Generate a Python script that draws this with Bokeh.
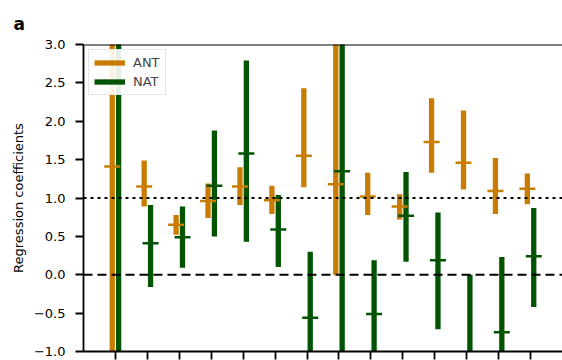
from bokeh.plotting import figure
from bokeh.models import (Span, FixedTicker, Range1d, Legend, LegendItem,
                          ColumnDataSource, CustomLabelingPolicy)
from bokeh.embed import file_html
from bokeh.resources import INLINE

# ---- data ----
groups = list(range(14))
ant_mean = [1.41, 1.15, 0.65, 0.96, 1.15, 0.97, 1.55, 1.18, 1.02, 0.89, 1.73, 1.46, 1.09, 1.12]
ant_low = [-1.6, 0.89, 0.52, 0.74, 0.91, 0.79, 1.14, 0.0, 0.78, 0.72, 1.33, 1.11, 0.79, 0.92]
ant_high = [4.4, 1.49, 0.78, 1.19, 1.40, 1.16, 2.43, 3.5, 1.33, 1.05, 2.30, 2.14, 1.52, 1.32]
nat_mean = [-1.6, 0.41, 0.49, 1.16, 1.58, 0.59, -0.56, 1.35, -0.51, 0.77, 0.19, -1.2, -0.75, 0.24]
nat_low = [-4.5, -0.16, 0.09, 0.50, 0.43, 0.10, -1.5, -3.5, -1.3, 0.17, -0.71, -2.4, -1.7, -0.42]
nat_high = [5.0, 0.91, 0.89, 1.88, 2.79, 1.04, 0.30, 5.5, 0.19, 1.34, 0.81, 0.0, 0.23, 0.87]
y_ticks = [-1.0, -0.5, 0.0, 0.5, 1.0, 1.5, 2.0, 2.5, 3.0]
y_tick_labels = ["\u22121.0", "\u22120.5", "0.0", "0.5", "1.0", "1.5", "2.0", "2.5", "3.0"]

ANT_COLOR = "#c97c02"
NAT_COLOR = "#025302"
FONT = "DejaVu Sans"
offset = 0.1

ant_x = [g - offset for g in groups]
nat_x = [g + offset for g in groups]
ant_src = ColumnDataSource(dict(x=ant_x, m=ant_mean, lo=ant_low, hi=ant_high))
nat_src = ColumnDataSource(dict(x=nat_x, m=nat_mean, lo=nat_low, hi=nat_high))

p = figure(width=562, height=360,
           x_range=Range1d(-1, 14), y_range=Range1d(-1, 3),
           output_backend="svg", toolbar_location=None,
           min_border_left=83, min_border_top=43, min_border_right=0, min_border_bottom=9)
p.title.text = "a"
p.title.align = "left"
p.title.offset = -70
p.title.standoff = 22
p.title.text_font = FONT
p.title.text_font_style = "bold"
p.title.text_font_size = "17px"
p.title.text_color = "black"

p.xgrid.visible = False
p.ygrid.visible = False
p.background_fill_color = "white"
p.border_fill_color = "white"
p.outline_line_color = None

# bars
r_ant = p.segment(x0="x", y0="lo", x1="x", y1="hi", source=ant_src,
                  line_color=ANT_COLOR, line_width=5.3, line_cap="butt")
r_nat = p.segment(x0="x", y0="lo", x1="x", y1="hi", source=nat_src,
                  line_color=NAT_COLOR, line_width=5.3, line_cap="butt")
# mean ticks
p.scatter(x="x", y="m", source=ant_src, marker="dash", size=16,
          line_color=ANT_COLOR, line_width=2.5)
p.scatter(x="x", y="m", source=nat_src, marker="dash", size=16,
          line_color=NAT_COLOR, line_width=2.5)

# reference lines
p.add_layout(Span(location=1.0, dimension="width", line_color="black",
                  line_width=2.2, line_dash="3 4"))
p.add_layout(Span(location=0.0, dimension="width", line_color="black",
                  line_width=2.2, line_dash="9 5"))
# top spine
p.add_layout(Span(location=3.0, dimension="width", line_color="black", line_width=2))

# axes
for ax in (p.xaxis[0], p.yaxis[0]):
    ax.axis_line_color = "black"
    ax.axis_line_width = 1.8
    ax.major_tick_line_color = "black"
    ax.major_tick_line_width = 1.8
    ax.major_tick_out = 8
    ax.major_tick_in = 0
    ax.minor_tick_out = 0
    ax.minor_tick_in = 0

p.xaxis.ticker = FixedTicker(ticks=groups)
p.xaxis.major_label_policy = CustomLabelingPolicy(
    code="for (const i of indices) { if (false) { yield i } }")
p.xaxis.major_label_text_font_size = "0px"
p.xaxis.major_label_standoff = 0

p.yaxis.ticker = FixedTicker(ticks=y_ticks)
p.yaxis.major_label_overrides = {t: l for t, l in zip(y_ticks, y_tick_labels)}
p.yaxis.major_label_text_font = FONT
p.yaxis.major_label_text_font_size = "13px"
p.yaxis.major_label_text_color = "black"
p.yaxis.major_label_standoff = 10
p.yaxis.axis_label = "Regression coefficients"
p.yaxis.axis_label_text_font = FONT
p.yaxis.axis_label_text_font_size = "13px"
p.yaxis.axis_label_text_font_style = "normal"
p.yaxis.axis_label_text_color = "black"
p.yaxis.axis_label_standoff = 5

legend = Legend(items=[LegendItem(label="ANT", renderers=[r_ant]),
                       LegendItem(label="NAT", renderers=[r_nat])],
                location="top_left")
legend.margin = 5
legend.padding = 5
legend.spacing = 4
legend.glyph_width = 31
legend.glyph_height = 15
legend.label_height = 15
legend.label_standoff = 8
legend.label_text_font = FONT
legend.label_text_font_size = "13px"
legend.border_line_color = "#cccccc"
legend.border_line_width = 1.5
legend.background_fill_alpha = 0.9
p.add_layout(legend)

open("out.html", "w").write(file_html(p, INLINE))
